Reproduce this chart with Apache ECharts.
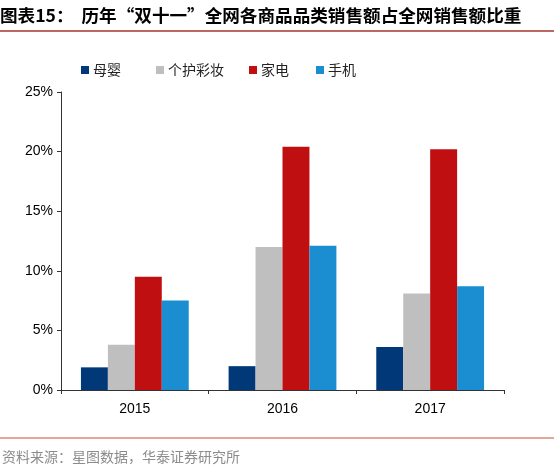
<!DOCTYPE html>
<html>
<head>
<meta charset="utf-8">
<script src="https://cdn.jsdelivr.net/npm/echarts@6/dist/echarts.min.js"></script>
<style>
	html, body { margin: 0; padding: 0; background: #fff; }
	#main { width: 554px; height: 469px; }
</style>
</head>
<body>
<div id="main"></div>
<script>
var years = ['2015', '2016', '2017'];
var names = ['母婴', '个护彩妆', '家电', '手机'];
var colors = ['#003878', '#BFBFBF', '#C00F10', '#1A8ED0'];
var muying = [1.9, 2.0, 3.6];
var gehu = [3.8, 12.0, 8.1];
var jiadian = [9.5, 20.4, 20.2];
var shouji = [7.5, 12.1, 8.7];
var yTicks = [0, 5, 10, 15, 20, 25];

var values = [muying, gehu, jiadian, shouji];
var legendLeft = [76, 151, 244, 311];
var cjk = '"Noto Sans CJK SC", sans-serif';

var myChart = echarts.init(document.getElementById('main'));

var legends = names.map(function(n, i) {
	return {
		data: [n],
		left: legendLeft[i],
		top: 58,
		itemWidth: 8,
		itemHeight: 8,
		icon: 'rect',
		itemGap: 0,
		textStyle: { fontFamily: cjk, fontSize: 14, color: '#222', padding: [0, 0, 0, -1] }
	};
});

var option = {
	animation: false,
	color: colors,
	title: [{
		text: '图表15：  历年“双十一”全网各商品品类销售额占全网销售额比重',
		left: 0,
		top: 7,
		padding: 0,
		textStyle: { fontFamily: cjk, fontSize: 17.6, fontWeight: 'bold', color: '#000' }
	}, {
		text: '资料来源：星图数据，华泰证券研究所',
		left: 2,
		top: 450,
		padding: 0,
		textStyle: { fontFamily: cjk, fontSize: 14, fontWeight: 'normal', color: '#8c8c8c' }
	}],
	graphic: [{
		type: 'line',
		shape: { x1: 0, y1: 31, x2: 554, y2: 31 },
		style: { stroke: '#A5352F', lineWidth: 1.5 }
	}, {
		type: 'line',
		shape: { x1: 0, y1: 438, x2: 554, y2: 438 },
		style: { stroke: '#D0502E', lineWidth: 1.2 }
	}],
	legend: legends,
	grid: { left: 61, right: 50, top: 92, bottom: 79 },
	xAxis: {
		type: 'category',
		data: years,
		axisLine: { lineStyle: { color: '#333', width: 1 } },
		axisTick: { show: true, length: 4, inside: false, lineStyle: { color: '#333' } },
		axisLabel: { fontFamily: 'Liberation Sans, Arial', fontSize: 14, color: '#000', margin: 12 }
	},
	yAxis: {
		type: 'value',
		min: yTicks[0],
		max: yTicks[yTicks.length - 1],
		interval: 5,
		axisLine: { show: true, lineStyle: { color: '#333', width: 1 } },
		axisTick: { show: true, length: 4, lineStyle: { color: '#333' } },
		splitLine: { show: false },
		axisLabel: { fontFamily: 'Liberation Sans, Arial', fontSize: 14, color: '#000', margin: 8, formatter: '{value}%' }
	},
	series: names.map(function(n, i) {
		return {
			name: n,
			type: 'bar',
			data: values[i],
			barGap: '0%',
			barCategoryGap: '27%',
			itemStyle: { color: colors[i] }
		};
	})
};

myChart.setOption(option);
</script>
</body>
</html>
